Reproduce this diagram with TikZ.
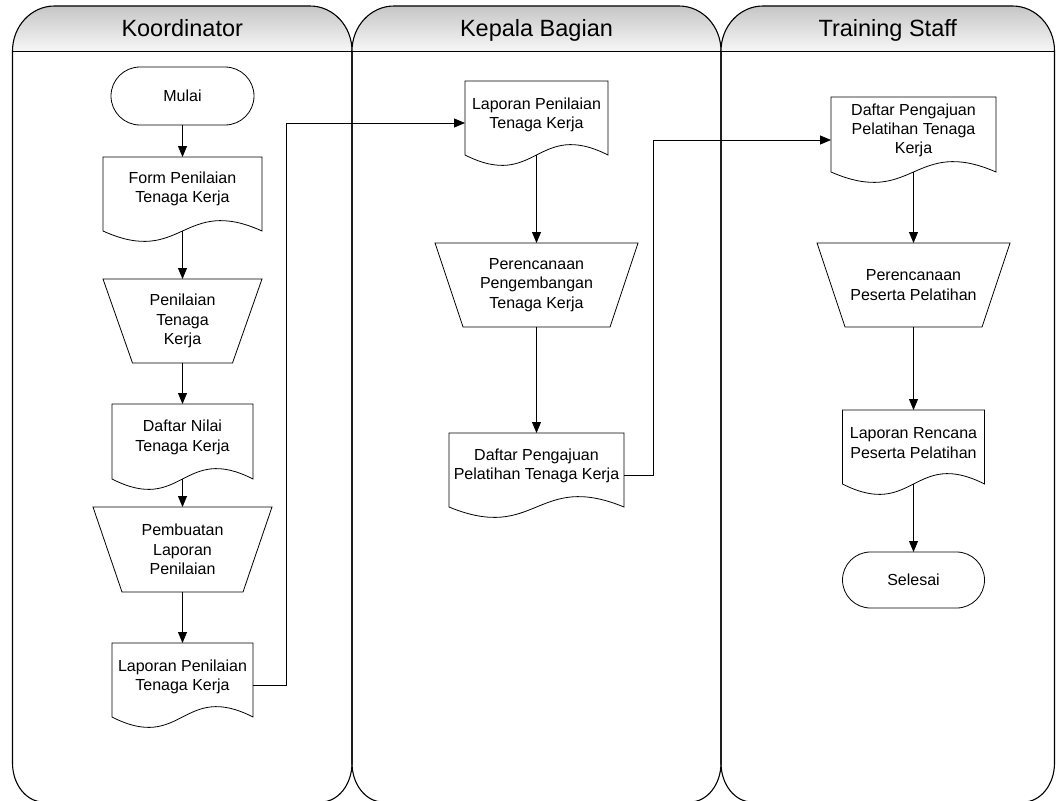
\documentclass[tikz,border=0pt]{standalone}
\usepackage{fontspec}
\setmainfont{Liberation Sans}
\usetikzlibrary{calc,arrows.meta}

\definecolor{hdtop}{HTML}{C6C6C6}
\definecolor{hdbot}{HTML}{F7F7F7}

\tikzset{
  laneline/.style={draw=black, line width=1.1pt},
  lanetitle/.style={font=\fontsize{23.5pt}{28pt}\selectfont, text=black, inner sep=0pt},
  shapeline/.style={draw=black, line width=0.8pt},
  nodetext/.style={font=\fontsize{16pt}{19.3pt}\selectfont, align=center, text=black, inner sep=0pt},
  docbox/.style={draw=none, inner sep=0pt, outer sep=0pt},
  trapbox/.style={draw=none, inner sep=0pt, outer sep=0pt, nodetext},
  terminal/.style={shapeline, rounded corners=#1, inner sep=0pt, outer sep=0pt, nodetext},
  flow/.style={draw=black, line width=0.8pt, -{Triangle[length=11pt,width=9pt]}},
  elbow/.style={flow}
}

% one swimlane: left x, right x, title node name, title text
\newcommand{\swimlane}[4]{%
  \shade[top color=hdtop, bottom color=hdbot]
    (#1,51.5) -- (#1,51) .. controls (#1,26.1) and (#1+18.8,6) .. (#1+42,6)
    -- (#2-42,6) .. controls (#2-18.8,6) and (#2,26.1) .. (#2,51) -- (#2,51.5) -- cycle;
  \draw[laneline]
    (#1,763) -- (#1,51) .. controls (#1,26.1) and (#1+18.8,6) .. (#1+42,6)
    -- (#2-42,6) .. controls (#2-18.8,6) and (#2,26.1) .. (#2,51)
    -- (#2,763) .. controls (#2,784.5) and (#2-13.9,802) .. (#2-31,802)
    -- (#1+31,802) .. controls (#1+13.9,802) and (#1,784.5) .. (#1,763) -- cycle;
  \draw[laneline] (#1,51.5) -- (#2,51.5);
  \node[lanetitle, anchor=base] (#3) at ({(#1+#2)/2},36.7) {#4};
}

% document symbol with a wavy lower edge
\newcommand{\docoutline}[1]{%
  \draw[shapeline] (#1.north west) -- (#1.north east) -- (#1.south east)
    .. controls ($(#1.south)+(0,-36)$) and ($(#1.south)+(0,36)$) .. (#1.south west) -- cycle;
}

% manual operation symbol (narrower at the bottom)
\newcommand{\trapoutline}[2]{%
  \draw[shapeline] (#1.north west) -- (#1.north east)
    -- ($(#1.south east)+(-#2,0)$) -- ($(#1.south west)+(#2,0)$) -- cycle;
}

\begin{document}
\begin{tikzpicture}[x=1pt, y=-1pt]
\useasboundingbox (0,0) rectangle (1056,800);
\clip (0,0) rectangle (1056,800);
\fill[white] (0,0) rectangle (1056,800);

% swimlanes
\swimlane{12.5}{352}{hkoor}{Koordinator}
\swimlane{352}{721}{hkabag}{Kepala Bagian}
\swimlane{721}{1054.5}{hstaff}{Training Staff}

% --- Koordinator ---
\node[terminal=29pt, minimum width=143pt, minimum height=58pt] (mulai) at (182.5,96) {Mulai};

\node[docbox, minimum width=159pt, minimum height=74pt,
  label={[nodetext, name=form-t, yshift=5pt]center:Form Penilaian\\Tenaga Kerja}] (form) at (182.5,194) {};
\docoutline{form}

\node[trapbox, minimum width=159pt, minimum height=84pt] (pen) at (182.5,321) {Penilaian\\Tenaga\\Kerja};
\trapoutline{pen}{29.5}

\node[docbox, minimum width=141pt, minimum height=75pt,
  label={[nodetext, name=dnilai-t, yshift=4pt]center:Daftar Nilai\\Tenaga Kerja}] (dnilai) at (182.5,441.5) {};
\docoutline{dnilai}

\node[trapbox, minimum width=179pt, minimum height=85pt] (pemb) at (182.5,549.5) {Pembuatan\\Laporan\\Penilaian};
\trapoutline{pemb}{29}

\node[docbox, minimum width=141pt, minimum height=74pt,
  label={[nodetext, name=lap1-t, yshift=3pt]center:Laporan Penilaian\\Tenaga Kerja}] (lap1) at (182.5,680) {};
\docoutline{lap1}

% --- Kepala Bagian ---
\node[docbox, minimum width=143pt, minimum height=74pt,
  label={[nodetext, name=lapk-t, yshift=3pt]center:Laporan Penilaian\\Tenaga Kerja}] (lapk) at (536.5,118) {};
\docoutline{lapk}

\node[trapbox, minimum width=203pt, minimum height=84pt] (renc) at (536.5,285) {Perencanaan\\Pengembangan\\Tenaga Kerja};
\trapoutline{renc}{28}

\node[docbox, minimum width=175pt, minimum height=74pt,
  label={[nodetext, name=daftk-t, yshift=4pt]center:Daftar Pengajuan\\Pelatihan Tenaga Kerja}] (daftk) at (536.5,470) {};
\docoutline{daftk}

% --- Training Staff ---
\node[docbox, minimum width=165pt, minimum height=75pt,
  label={[nodetext, name=daftt-t, yshift=4pt]center:Daftar Pengajuan\\Pelatihan Tenaga\\Kerja}] (daftt) at (913.5,134.5) {};
\docoutline{daftt}

\node[trapbox, minimum width=193pt, minimum height=84pt] (pes) at (913.5,285) {Perencanaan\\Peserta Pelatihan};
\trapoutline{pes}{28}

\node[docbox, minimum width=142pt, minimum height=74pt,
  label={[nodetext, name=lapr-t, yshift=4pt]center:Laporan Rencana\\Peserta Pelatihan}] (lapr) at (913.5,447) {};
\docoutline{lapr}

\node[terminal=28pt, minimum width=142pt, minimum height=56pt] (selesai) at (913.5,580) {Selesai};

% flow connectors
\draw[flow] (mulai.south) -- (form.north);
\draw[flow] (form.south) -- (pen.north);
\draw[flow] (pen.south) -- (dnilai.north);
\draw[flow] (dnilai.south) -- (pemb.north);
\draw[flow] (pemb.south) -- (lap1.north);
\draw[elbow] ($(lap1.east)+(0,5)$) -- ++(33,0) |- ($(lapk.west)+(0,5)$);
\draw[flow] (lapk.south) -- (renc.north);
\draw[flow] (renc.south) -- (daftk.north);
\draw[elbow] ($(daftk.east)+(0,5)$) -- ++(29,0) |- ($(daftt.west)+(0,5.5)$);
\draw[flow] (daftt.south) -- (pes.north);
\draw[flow] (pes.south) -- (lapr.north);
\draw[flow] (lapr.south) -- (selesai.north);
\end{tikzpicture}
\end{document}
